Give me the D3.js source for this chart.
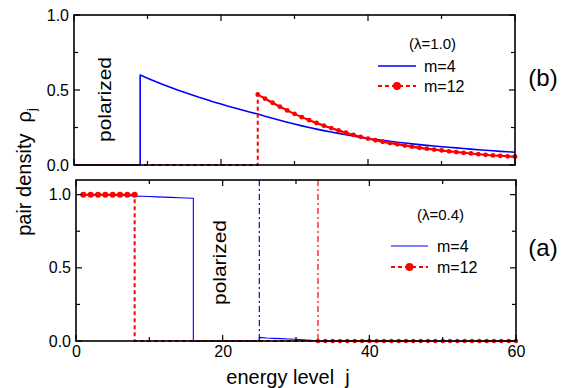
<!DOCTYPE html>
<html><head><meta charset="utf-8">
<script src="https://cdn.jsdelivr.net/npm/d3@7"></script>
<style>body{margin:0;background:#fff}svg{display:block}text{font-family:"Liberation Sans",Arial,sans-serif}</style>
</head><body>
<script>
// ---------- data ----------
const xTicks = [0, 20, 40, 60];
const yTicks = [0.0, 0.5, 1.0];
// panel (b), lambda = 1.0
const bM4Start = 9;
const bM4 = [0.600,0.579,0.559,0.539,0.520,0.502,0.485,0.468,0.451,0.436,0.420,0.406,0.391,0.378,0.365,0.352,0.340,
  0.325,0.311,0.298,0.285,0.273,0.261,0.250,0.239,0.229,0.220,0.211,0.202,0.193,0.184,0.176,
  0.170,0.164,0.158,0.152,0.147,0.141,0.136,0.131,0.127,0.122,0.118,0.114,0.110,0.106,0.102,0.098,0.095,0.091,0.088,0.085];
const bM12Start = 25;
const bM12 = [0.470,0.442,0.415,0.389,0.364,0.341,0.319,0.299,0.280,0.262,0.246,0.230,0.215,0.201,0.188,0.176,
  0.165,0.155,0.146,0.138,0.130,0.122,0.115,0.109,0.103,0.097,0.091,0.086,0.081,0.077,0.072,0.068,0.064,0.061,0.058,0.055];
// panel (a), lambda = 0.4
const aM4Start = 1;
const aM4 = [1.000,1.000,0.999,0.998,0.996,0.994,0.992,0.990,0.989,0.987,0.985,0.983,0.981,0.979,0.977,0.975];
const aM4TailStart = 25;
const aM4Tail = [0.025,0.020,0.018,0.016,0.014,0.012,0.008,0.004,0.000];
const aM12Start = 1;
const aM12 = [1,1,1,1,1,1,1,1];
const aM12DotsStart = 33;
const aM12Dots = [0,0,0,0,0,0,0,0,0,0,0,0,0,0,0,0,0,0,0,0,0,0,0,0,0,0,0,0];
const aBlueMark = 25, aRedMark = 33;
const bBlueJump = 9, bRedJump = 25, aRedDrop = 8, aBlueDrop = 16;

const W = 575, H = 388;
const svg = d3.select("body").append("svg").attr("width", W).attr("height", H);
const BLUE = "#0000ff", RED = "#ff0000";
const FONT = "Liberation Sans, Arial, sans-serif";

function panel(y0, y1, x0, x1, ymax) {
  const x = d3.scaleLinear().domain([0, 60]).range([x0, x1]);
  const y = d3.scaleLinear().domain([0, ymax]).range([y1, y0]);
  const g = svg.append("g");
  return {x, y, g};
}
function frame(p, showX) {
  const {x, y, g} = p;
  const [x0, x1] = x.range(), [y1, y0] = y.range();
  const tk = g.append("g").attr("stroke", "#000").attr("stroke-width", 1.2);
  d3.range(0, 61, 10).forEach(v => {
    const L = v % 20 === 0 ? 6 : 4;
    tk.append("line").attr("x1", x(v)).attr("x2", x(v)).attr("y1", y1).attr("y2", y1 - L);
    tk.append("line").attr("x1", x(v)).attr("x2", x(v)).attr("y1", y0).attr("y2", y0 + L);
  });
  d3.range(0, y.domain()[1] + 0.001, 0.25).forEach(v => {
    const L = Math.round(v * 100) % 50 === 0 ? 6 : 4;
    tk.append("line").attr("y1", y(v)).attr("y2", y(v)).attr("x1", x0).attr("x2", x0 + L);
    tk.append("line").attr("y1", y(v)).attr("y2", y(v)).attr("x1", x1).attr("x2", x1 - L);
  });
  g.append("rect").attr("x", x0).attr("y", y0).attr("width", x1 - x0).attr("height", y1 - y0)
    .attr("fill", "none").attr("stroke", "#000").attr("stroke-width", 1.6);
  const ya = d3.axisLeft(y).tickValues(yTicks).tickFormat(d3.format(".1f")).tickSize(0).tickPadding(5);
  const ag = g.append("g").attr("transform", `translate(${x0},0)`).call(ya);
  ag.select(".domain").remove();
  ag.selectAll("text").attr("font-size", 16).attr("fill", "#000").attr("font-family", FONT);
  if (showX) {
    const xa = d3.axisBottom(x).tickValues(xTicks).tickSize(0).tickPadding(5);
    const xg = g.append("g").attr("transform", `translate(0,${y1})`).call(xa);
    xg.select(".domain").remove();
    xg.selectAll("text").attr("font-size", 16).attr("fill", "#000").attr("font-family", FONT);
  }
}
const line = (p) => d3.line().x(d => p.x(d[0])).y(d => p.y(d[1]));
function path(p, pts, color, w, dash) {
  p.g.append("path").datum(pts).attr("d", line(p)).attr("fill", "none").attr("stroke", color)
    .attr("stroke-width", w).attr("stroke-dasharray", dash || null).attr("stroke-linejoin", "round");
}
function dots(p, pts, r) {
  p.g.append("g").selectAll("circle").data(pts).join("circle")
    .attr("cx", d => p.x(d[0])).attr("cy", d => p.y(d[1])).attr("r", r).attr("fill", RED);
}
const series = (start, vals) => vals.map((v, i) => [start + i, v]);

// ---------- panel (b) ----------
const pb = panel(15, 165, 74, 515, 1.0);
const bBlue = [[0, 0], [bBlueJump, 0]].concat(series(bM4Start, bM4));
const bRedPts = series(bM12Start, bM12);
path(pb, bBlue, BLUE, 1.6);
path(pb, [[0, 0], [bRedJump, 0]].concat(bRedPts), RED, 2, "4,3");
path(pb, bRedPts, RED, 2);
dots(pb, bRedPts, 2.4);
frame(pb, false);

// ---------- panel (a) ----------
const pa = panel(180, 341, 76, 516, 1.1);
pa.g.append("line").attr("x1", pa.x(aBlueMark)).attr("x2", pa.x(aBlueMark)).attr("y1", 180).attr("y2", 341)
  .attr("stroke", BLUE).attr("stroke-width", 1.2).attr("stroke-dasharray", "6,3,2,3");
pa.g.append("line").attr("x1", pa.x(aRedMark)).attr("x2", pa.x(aRedMark)).attr("y1", 180).attr("y2", 341)
  .attr("stroke", RED).attr("stroke-width", 1.2).attr("stroke-dasharray", "6,3,2,3");
const aBlue = series(aM4Start, aM4).concat([[aBlueDrop, 0], [aM4TailStart, 0]]).concat(series(aM4TailStart, aM4Tail)).concat([[60, 0]]);
path(pa, aBlue, BLUE, 1.1);
const aRedTop = series(aM12Start, aM12);
path(pa, aRedTop.concat([[aRedDrop, 0], [60, 0]]), RED, 2, "4,3");
path(pa, aRedTop, RED, 2);
dots(pa, aRedTop, 3);
dots(pa, series(aM12DotsStart, aM12Dots), 2.2);
frame(pa, true);

// ---------- texts ----------
const T = (x, y, s, size, extra) => {
  const t = svg.append("text").attr("x", x).attr("y", y).attr("font-size", size).attr("fill", "#000").text(s);
  if (extra) extra(t);
  return t;
};
T(111, 99.5, "polarized", 19, t => t.attr("text-anchor", "middle").attr("transform", "rotate(-90,111,99.5)")
  .attr("textLength", 85).attr("lengthAdjust", "spacingAndGlyphs"));
T(226, 262.5, "polarized", 19, t => t.attr("text-anchor", "middle").attr("transform", "rotate(-90,226,262.5)")
  .attr("textLength", 85).attr("lengthAdjust", "spacingAndGlyphs"));
T(543, 86, "(b)", 24, t => t.attr("text-anchor", "middle"));
T(543, 256, "(a)", 24, t => t.attr("text-anchor", "middle"));
// y label
const yl = svg.append("text").attr("transform", "translate(31,172) rotate(-90)").attr("text-anchor", "middle")
  .attr("font-size", 20).attr("fill", "#000");
yl.append("tspan").text("pair density\u00a0\u00a0\u03c1");
yl.append("tspan").attr("font-size", 13).attr("dy", 5).text("j");
T(288, 384, "energy level\u00a0\u00a0j", 20, t => t.attr("text-anchor", "middle"));

// legends
function legend(lx, lineL, lamX, lamY, y1, y2, blueW) {
  T(lamX, lamY, "", 15, t => t.text(lamLabel[lx]));
}
const lamLabel = {};
function legendBlock(lineX0, lineX1, textX, lamX, lamY, y1, y2, lam, blueW) {
  T(lamX, lamY, `(\u03bb=${lam})`, 15);
  svg.append("line").attr("x1", lineX0).attr("x2", lineX1).attr("y1", y1).attr("y2", y1)
    .attr("stroke", BLUE).attr("stroke-width", blueW);
  T(textX, y1 + 6, "m=4", 16);
  svg.append("line").attr("x1", lineX0).attr("x2", lineX1).attr("y1", y2).attr("y2", y2)
    .attr("stroke", RED).attr("stroke-width", 2).attr("stroke-dasharray", "4,3");
  svg.append("circle").attr("cx", (lineX0 + lineX1) / 2).attr("cy", y2).attr("r", 4).attr("fill", RED);
  T(textX, y2 + 6, "m=12", 16);
}
legendBlock(378, 416, 424, 409, 49, 66, 86, "1.0", 1.6);
legendBlock(391, 428, 437, 417, 220, 246, 267, "0.4", 1.1);
</script>
</body></html>
